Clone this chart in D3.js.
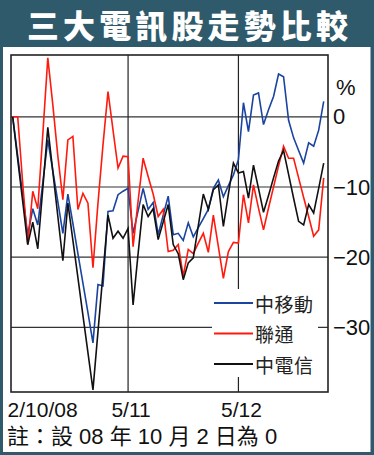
<!DOCTYPE html>
<html>
<head>
<meta charset="utf-8">
<script src="https://cdn.jsdelivr.net/npm/d3@7"></script>
<style>
  html, body { margin: 0; padding: 0; background: #fff; }
  svg { display: block; }
</style>
</head>
<body>
<svg id="chart" width="374" height="455"></svg>
<script>
// ── Data (percent change, 2 Oct 2008 = 0, one point per trading day) ──
const seriesNames = ['中移動', '聯通', '中電信'];
const chinaMobile = [
  0, -5.6, -11.2, -16.8, -13.1, -15.4, -9.4, -3.3, -7.7, -12.1,
  -16.6, -11.0, -15.2, -19.5, -23.7, -27.9, -32.2, -23.9, -24.1, -13.5,
  -13.4, -11.1, -10.6, -10.2, -16.6, -13.4, -10.2, -13.2, -12.2, -16.8,
  -14.0, -11.3, -16.8, -16.6, -17.6, -15.1, -17.1, -15.8, -14.5, -13.2,
  -10.2, -9.0, -11.4, -9.8, -8.3, -6.1, 2.0, -2.1, 3.1, 3.4,
  -1.1, 1.0, 2.9, 6.1, 5.7, -0.5, -3.0, -4.8, -6.6, -3.7,
  -4.2, -1.9, 2.2
];
const chinaUnicom = [
  0, 0, -9.5, -18.2, -10.6, -13.1, -2.5, 8.4, 1.7, -5.6,
  -11.8, -3.3, -2.8, -13.2, -10.9, -12.3, -21.5, -12.3, -4.0, 3.6,
  -1.9, -7.3, -5.6, -5.7, -18.5, -12.0, -5.9, -8.5, -11.0, -14.2,
  -13.2, -19.2, -19.0, -18.2, -22.7, -18.9, -19.5, -18.0, -16.6, -19.3,
  -14.0, -18.5, -23.0, -19.2, -17.9, -18.0, -11.1, -15.1, -9.7, -13.0,
  -16.1, -13.0, -10.0, -7.0, -4.2, -5.9, -5.9, -8.7, -11.5, -14.2,
  -17.0, -16.1, -8.7
];
const chinaTelecom = [
  0, -6.1, -12.1, -18.2, -15.0, -18.8, -10.2, -1.5, -7.8, -14.2,
  -20.5, -12.3, -17.6, -22.9, -28.3, -33.6, -38.9, -30.6, -22.3, -14.0,
  -17.3, -16.3, -17.3, -15.9, -26.8, -19.5, -12.5, -14.2, -13.1, -17.5,
  -15.0, -12.5, -18.2, -19.5, -23.2, -20.8, -20.1, -15.5, -11.0, -13.2,
  -10.4, -9.7, -15.6, -11.0, -6.6, -8.0, -7.8, -11.6, -6.9, -10.2,
  -13.6, -11.2, -8.7, -6.3, -4.8, -8.2, -11.6, -14.9, -15.4, -12.5,
  -13.7, -10.2, -6.6
];
const xTickIndex = [0, 23, 45];
const xTickLabels = ['2/10/08', '5/11', '5/12'];
const yTicks = [0, -10, -20, -30];

// ── Layout ──
const W = 374, H = 455;
const frame = { left: 11, right: 328, top: 55, bottom: 392 };
const teal = '#2e5a6b';
const colors = ['#1a44a0', '#ff1a0d', '#111111'];
const latin = '"Liberation Sans", Arial, "Noto Sans CJK TC", sans-serif';
const cjk = '"Noto Sans CJK TC", "Noto Sans CJK SC", sans-serif';

const svg = d3.select('#chart');

// Outer border + banner
svg.append('rect').attr('x', 0).attr('y', 0).attr('width', W).attr('height', H).attr('fill', teal);
svg.append('rect').attr('x', 3).attr('y', 47).attr('width', 367.5).attr('height', 405).attr('fill', '#fff');

svg.append('text')
  .attr('x', 27).attr('y', 24)
  .attr('dominant-baseline', 'central')
  .attr('textLength', 321).attr('lengthAdjust', 'spacing')
  .attr('fill', '#fff').attr('font-family', cjk)
  .attr('font-size', '32px').attr('font-weight', 900)
  .text('三大電訊股走勢比較');

// ── Scales ──
const x = d3.scaleLinear().domain([0, chinaMobile.length - 1]).range([12.7, 323.7]);
const y = d3.scaleLinear().domain([-39.2, 8.8]).range([frame.bottom, frame.top]);

// Grid lines
svg.append('g').selectAll('line').data(yTicks).join('line')
  .attr('x1', frame.left).attr('x2', frame.right)
  .attr('y1', d => y(d)).attr('y2', d => y(d))
  .attr('stroke', '#333').attr('stroke-width', 1.2);

svg.append('g').selectAll('line').data(xTickIndex.slice(1)).join('line')
  .attr('x1', d => x(d)).attr('x2', d => x(d))
  .attr('y1', frame.top).attr('y2', frame.bottom)
  .attr('stroke', '#222').attr('stroke-width', 1.2);

// Legend background (interrupts the grid)
const legend = svg.append('g');
legend.append('rect')
  .attr('x', 212).attr('y', 289).attr('width', 106).attr('height', 88)
  .attr('fill', '#fff');

// ── Lines ──
const line = d3.line().x((d, i) => x(i)).y(d => y(d));
[chinaMobile, chinaUnicom, chinaTelecom].forEach((s, k) => {
  svg.append('path')
    .datum(s)
    .attr('d', line)
    .attr('fill', 'none')
    .attr('stroke', colors[k])
    .attr('stroke-width', 1.6);
});

// Plot frame
svg.append('rect')
  .attr('x', frame.left).attr('y', frame.top)
  .attr('width', frame.right - frame.left).attr('height', frame.bottom - frame.top)
  .attr('fill', 'none').attr('stroke', '#222').attr('stroke-width', 1.6);

// ── Axes ──
const yAxis = svg.append('g')
  .attr('transform', 'translate(' + frame.right + ',0)')
  .call(d3.axisRight(y).tickValues(yTicks).tickSize(0).tickPadding(5).tickFormat(d3.format('d')));
yAxis.select('.domain').remove();
yAxis.selectAll('text')
  .attr('font-family', latin).attr('font-size', '22px').attr('fill', '#111');

svg.append('text')
  .attr('x', 336).attr('y', 95)
  .attr('font-family', latin).attr('font-size', '22px').attr('fill', '#111')
  .text('%');

const xAxis = svg.append('g')
  .attr('transform', 'translate(0,' + frame.bottom + ')')
  .call(d3.axisBottom(x).tickValues(xTickIndex).tickSize(0).tickPadding(10)
    .tickFormat((d, i) => xTickLabels[i]));
xAxis.select('.domain').remove();
xAxis.selectAll('text')
  .attr('font-family', latin).attr('font-size', '21px').attr('fill', '#111')
  .attr('text-anchor', (d, i) => i === 0 ? 'start' : 'middle')
  .attr('dx', (d, i) => i === 0 ? -5.7 : 2.5);

// Legend entries
seriesNames.forEach((name, k) => {
  const ly = 303 + k * 30.5;
  legend.append('line')
    .attr('x1', 214).attr('x2', 253).attr('y1', ly).attr('y2', ly)
    .attr('stroke', colors[k]).attr('stroke-width', 1.8);
  legend.append('text')
    .attr('x', 255).attr('y', ly)
    .attr('dominant-baseline', 'central')
    .attr('font-family', cjk).attr('font-size', '19px').attr('fill', '#222')
    .attr('letter-spacing', 0.5)
    .text(name);
});

// Footnote
svg.append('text')
  .attr('x', 7).attr('y', 444)
  .attr('font-family', latin).attr('font-size', '22px').attr('fill', '#111')
  .text('註：設 08 年 10 月 2 日為 0');
</script>
</body>
</html>
